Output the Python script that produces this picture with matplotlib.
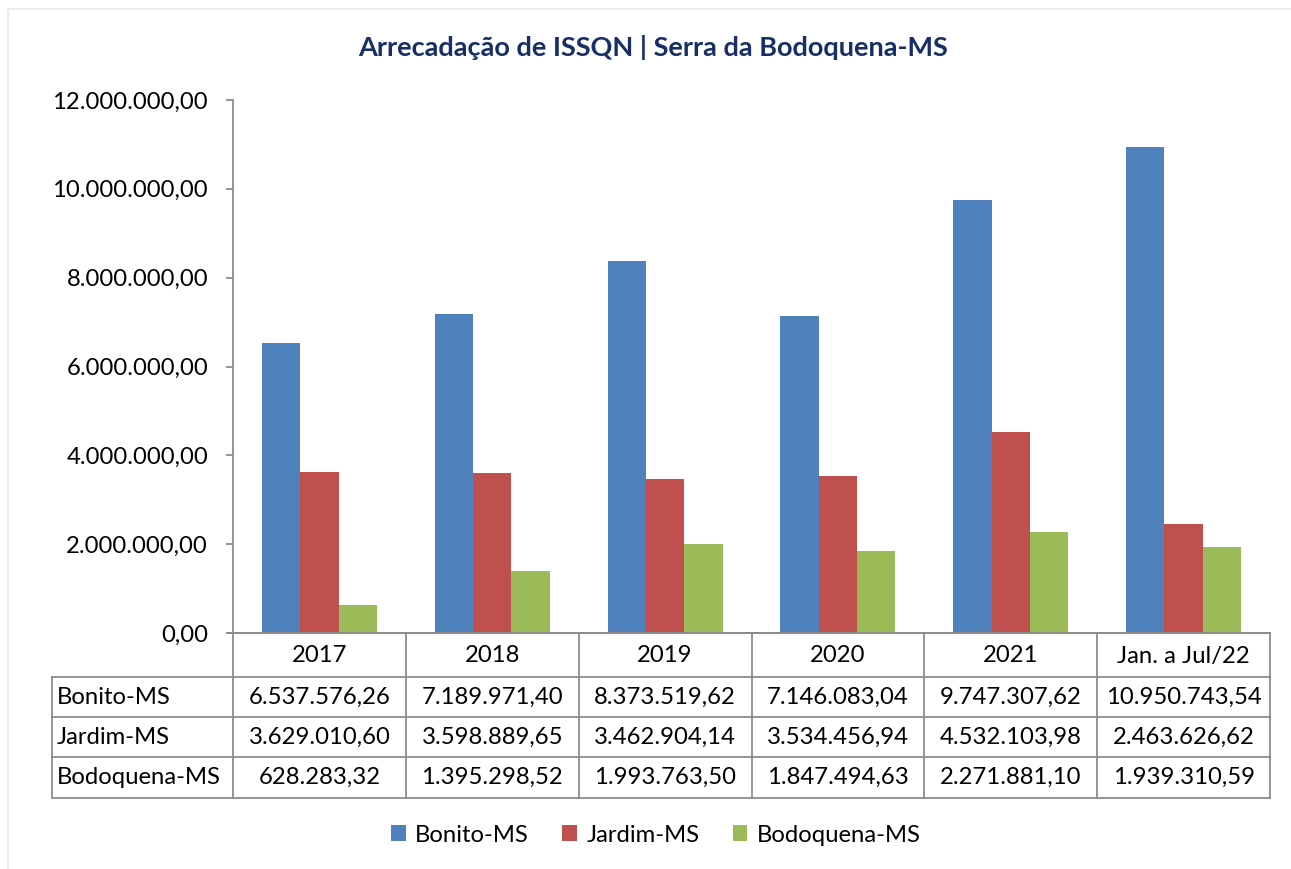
import matplotlib.pyplot as plt
from matplotlib.lines import Line2D
from matplotlib.patches import Patch
import numpy as np

plt.rcParams['font.family'] = ['Lato', 'DejaVu Sans']

categories = ['2017', '2018', '2019', '2020', '2021', 'Jan. a Jul/22']
series_names = ['Bonito-MS', 'Jardim-MS', 'Bodoquena-MS']
bonito = [6537576.26, 7189971.40, 8373519.62, 7146083.04, 9747307.62, 10950743.54]
jardim = [3629010.60, 3598889.65, 3462904.14, 3534456.94, 4532103.98, 2463626.62]
bodoquena = [628283.32, 1395298.52, 1993763.50, 1847494.63, 2271881.10, 1939310.59]
colors = ['#4F81BD', '#C0504D', '#9BBB59']
yticks = [0, 2000000, 4000000, 6000000, 8000000, 10000000, 12000000]


def br(v):
    s = f'{v:,.2f}'
    return s.replace(',', '#').replace('.', ',').replace('#', '.')


W, H = 1291, 869
fig = plt.figure(figsize=(W / 100, H / 100), dpi=100)

# pixel layout
x0, x1 = 233, 1270
ytop, ybot = 100, 633
rowlab = 52
rows = [633, 677, 717, 757, 798]
gridc = '#8c8c8c'
fs = 17.2

ax = fig.add_axes([x0 / W, 1 - ybot / H, (x1 - x0) / W, (ybot - ytop) / H])
x = np.arange(len(categories))
bw = 0.222
for i, (vals, c) in enumerate(zip([bonito, jardim, bodoquena], colors)):
    ax.bar(x + (i - 1) * bw, vals, bw, color=c, linewidth=0)
ax.set_xlim(-0.5, len(categories) - 0.5)
ax.set_ylim(0, 12000000)
ax.set_yticks(yticks)
ax.set_yticklabels([br(v) for v in yticks], fontsize=fs)
ax.set_xticks([])
for s in ['top', 'right']:
    ax.spines[s].set_visible(False)
ax.spines['left'].set_color(gridc)
ax.spines['bottom'].set_color(gridc)
ax.spines['left'].set_linewidth(1.3)
ax.spines['bottom'].set_linewidth(1.3)
ax.tick_params(axis='y', length=5, color=gridc, width=1.3, pad=13)

# data table drawn in pixel coords
tab = fig.add_axes([0, 0, 1, 1])
tab.set_xlim(0, W)
tab.set_ylim(H, 0)
tab.axis('off')
tab.patch.set_alpha(0)
cw = (x1 - x0) / len(categories)
cols = [x0 + i * cw for i in range(len(categories) + 1)]
lw = 1.3
# horizontal lines
tab.add_line(Line2D([x0 - 6, x1], [rows[0], rows[0]], color=gridc, lw=lw))
for r in rows[1:]:
    tab.add_line(Line2D([rowlab, x1], [r, r], color=gridc, lw=lw))
# vertical lines
tab.add_line(Line2D([rowlab, rowlab], [rows[1], rows[-1]], color=gridc, lw=lw))
for c in cols:
    tab.add_line(Line2D([c, c], [rows[0], rows[-1]], color=gridc, lw=lw))
# header
for i, cat in enumerate(categories):
    tab.text((cols[i] + cols[i + 1]) / 2, (rows[0] + rows[1]) / 2 + 1, cat,
             ha='center', va='center', fontsize=fs)
for j, (name, vals) in enumerate(zip(series_names, [bonito, jardim, bodoquena])):
    yc = (rows[j + 1] + rows[j + 2]) / 2
    tab.text(rowlab + 5, yc, name, ha='left', va='center', fontsize=fs)
    for i, v in enumerate(vals):
        tab.text((cols[i] + cols[i + 1]) / 2, yc, br(v), ha='center', va='center', fontsize=fs)

# faint outer frame
tab.add_line(Line2D([8, 8], [9, H], color='#ececec', lw=1.5))
tab.add_line(Line2D([8, W], [9, 9], color='#ececec', lw=1.5))

fig.text(653 / W, 1 - 48 / H, 'Arrecadação de ISSQN | Serra da Bodoquena-MS',
         ha='center', va='center', fontsize=19.5, fontweight='bold', color='#172F66')

handles = [Patch(facecolor=c, edgecolor='none') for c in colors]
fig.legend(handles, series_names, loc='center', bbox_to_anchor=(656 / W, 1 - 835 / H),
           ncol=3, frameon=False, fontsize=fs, handlelength=0.6, handleheight=0.6,
           handletextpad=0.4, columnspacing=1.4)

fig.savefig('out.png', dpi=100)
